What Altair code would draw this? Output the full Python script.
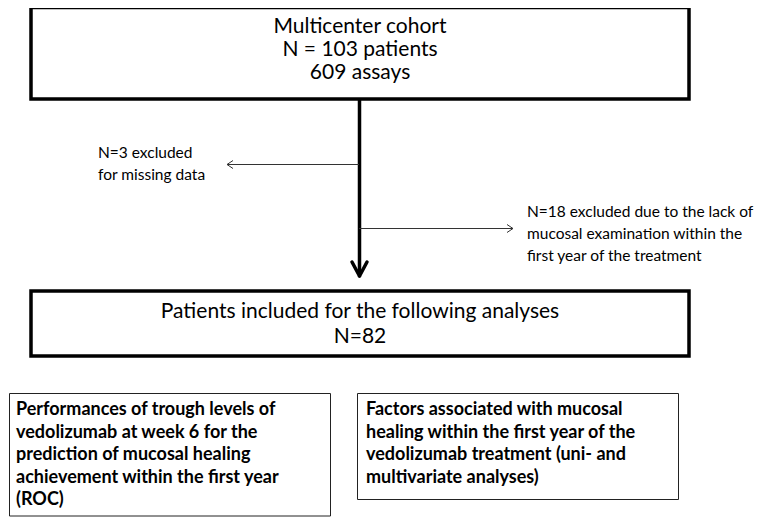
import altair as alt
import pandas as pd

# ---- content ----
top_lines = ["Multicenter cohort", "N = 103 patients", "609 assays"]
mid_lines = ["Patients included for the following analyses", "N=82"]
excl1_lines = ["N=3 excluded", "for missing data"]
excl2_lines = ["N=18 excluded due to the lack of",
               "mucosal examination within the",
               "first year of the treatment"]
left_lines = ["Performances of trough levels of",
              "vedolizumab at week 6 for the",
              "prediction of mucosal healing",
              "achievement within the first year",
              "(ROC)"]
right_lines = ["Factors associated with mucosal",
               "healing within the first year of the",
               "vedolizumab treatment (uni- and",
               "multivariate analyses)"]

# ---- layout (screen pixel coordinates) ----
W, H = 749, 509
X0, Y0 = 8, 8
FONT = "Lato, Liberation Sans, sans-serif"

xs = alt.Scale(domain=[X0, X0 + W], nice=False, zero=False)
ys = alt.Scale(domain=[Y0, Y0 + H], nice=False, zero=False, reverse=True)

def X(f):
    return alt.X(f, type="quantitative", scale=xs, axis=None)

def Y(f):
    return alt.Y(f, type="quantitative", scale=ys, axis=None)

thick_boxes = pd.DataFrame({"x": [31, 31], "x2": [689, 689],
                            "y": [7.5, 291], "y2": [99, 356]})
thin_boxes = pd.DataFrame({"x": [9.5, 357.5], "x2": [330.5, 678.5],
                           "y": [393.5, 393.5], "y2": [516, 499.5]})

main_arrow = pd.DataFrame({"x": [359.5], "x2": [359.5], "y": [99], "y2": [275]})
main_head = pd.DataFrame({"x": [352, 367], "x2": [359.5, 359.5],
                          "y": [262, 262], "y2": [276, 276]})
thin_arrows = pd.DataFrame({"x": [227, 359], "x2": [359, 513],
                            "y": [164.5, 228.5], "y2": [164.5, 228.5]})
thin_heads = pd.DataFrame({"x": [233, 233, 507, 507], "x2": [227, 227, 513, 513],
                           "y": [160.5, 168.5, 224.5, 232.5],
                           "y2": [164.5, 164.5, 228.5, 228.5]})

def text_df(lines, x, y_first, step):
    return pd.DataFrame({"t": lines, "x": [x] * len(lines),
                         "y": [y_first + i * step for i in range(len(lines))]})

top_txt = text_df(top_lines, 360, 27, 23)
mid_txt = text_df(mid_lines, 360, 311.5, 25)
ex1_txt = text_df(excl1_lines, 98, 153, 22)
ex2_txt = text_df(excl2_lines, 527, 212, 22)
left_txt = text_df(left_lines, 16, 410, 22.5)
right_txt = text_df(right_lines, 366, 410, 22.5)

layers = []
layers.append(alt.Chart(thick_boxes).mark_rect(fill="white", stroke="black", strokeWidth=3.5)
              .encode(x=X("x"), x2="x2", y=Y("y"), y2="y2"))
layers.append(alt.Chart(thin_boxes).mark_rect(fill="white", stroke="#222222", strokeWidth=1)
              .encode(x=X("x"), x2="x2", y=Y("y"), y2="y2"))
layers.append(alt.Chart(main_arrow).mark_rule(color="black", strokeWidth=3.5)
              .encode(x=X("x"), x2="x2", y=Y("y"), y2="y2"))
layers.append(alt.Chart(main_head).mark_rule(color="black", strokeWidth=3.5, strokeCap="round")
              .encode(x=X("x"), x2="x2", y=Y("y"), y2="y2"))
layers.append(alt.Chart(thin_arrows).mark_rule(color="#333333", strokeWidth=1)
              .encode(x=X("x"), x2="x2", y=Y("y"), y2="y2"))
layers.append(alt.Chart(thin_heads).mark_rule(color="#333333", strokeWidth=1)
              .encode(x=X("x"), x2="x2", y=Y("y"), y2="y2"))

def txt(df, align, size, weight="normal"):
    return (alt.Chart(df).mark_text(align=align, baseline="middle", font=FONT,
                                     fontSize=size, fontWeight=weight, color="black")
            .encode(x=X("x"), y=Y("y"), text="t:N"))

layers.append(txt(top_txt, "center", 21))
layers.append(txt(mid_txt, "center", 21))
layers.append(txt(ex1_txt, "left", 15.5))
layers.append(txt(ex2_txt, "left", 15.5))
layers.append(txt(left_txt, "left", 18, "bold"))
layers.append(txt(right_txt, "left", 18, "bold"))

chart = (alt.layer(*layers)
         .properties(width=W, height=H, padding=0, autosize="none", background="white")
         .configure_view(stroke=None))

chart.save("out.html", embed_options={"renderer": "svg", "actions": False})
